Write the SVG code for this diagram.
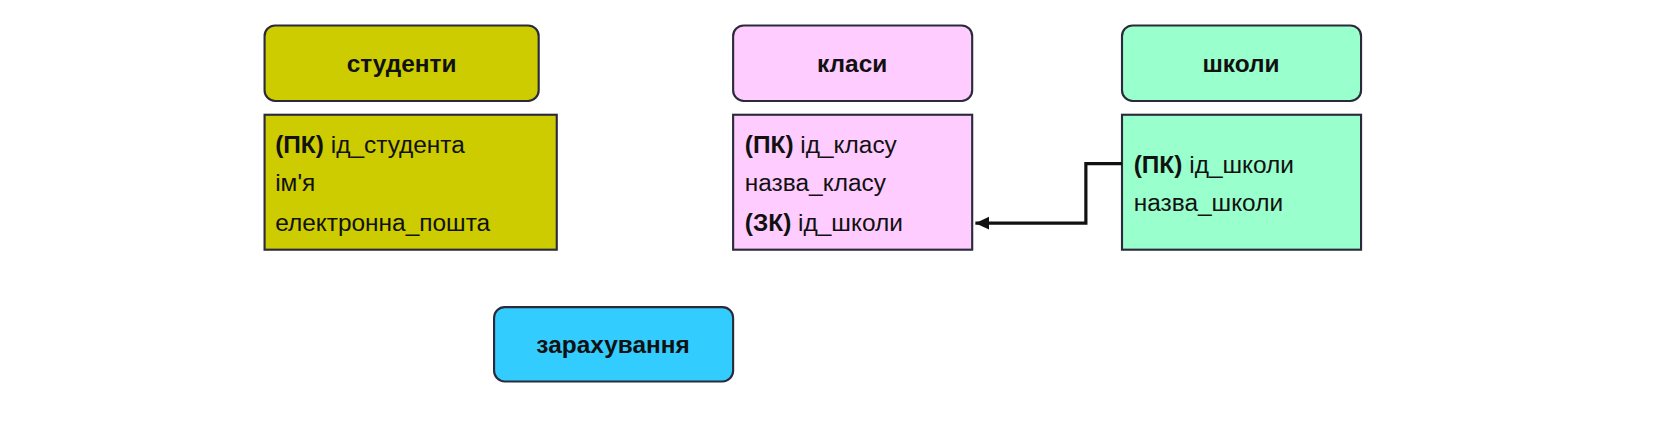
<svg xmlns="http://www.w3.org/2000/svg" width="1666" height="428" viewBox="0 0 1666 428">
<style>
.h{stroke:#2a2a3a;stroke-width:2}
.t{font-family:"Liberation Sans",Arial,sans-serif;font-size:23px;fill:#111}
.b{font-weight:bold}
.c{stroke:#111;stroke-width:3;fill:none}
</style>
<defs><marker id="a" markerWidth="14" markerHeight="14" refX="13" refY="6" orient="auto" markerUnits="userSpaceOnUse"><path d="M0,0 L13,6 L0,12 Z" fill="#111"/></marker></defs>
<rect width="1666" height="428" fill="#fff"/>
<g transform="scale(1.0625)">
<g id="students">
<rect class="h" x="249" y="24" width="258" height="71" rx="10" fill="#cccc00"/>
<text class="t b" x="378" y="68" text-anchor="middle">студенти</text>
<rect class="h" x="249" y="108" width="275" height="127" fill="#cccc00"/>
<text class="t" x="259" y="144"><tspan class="b">(ПК)</tspan> ід_студента</text>
<text class="t" x="259" y="180">ім'я</text>
<text class="t" x="259" y="217">електронна_пошта</text>
</g>
<g id="classes">
<rect class="h" x="690" y="24" width="225" height="71" rx="10" fill="#ffccff"/>
<text class="t b" x="802" y="68" text-anchor="middle">класи</text>
<rect class="h" x="690" y="108" width="225" height="127" fill="#ffccff"/>
<text class="t" x="701" y="144"><tspan class="b">(ПК)</tspan> ід_класу</text>
<text class="t" x="701" y="180">назва_класу</text>
<text class="t" x="701" y="217"><tspan class="b">(ЗК)</tspan> ід_школи</text>
</g>
<g id="schools">
<rect class="h" x="1056" y="24" width="225" height="71" rx="10" fill="#99ffcc"/>
<text class="t b" x="1168" y="68" text-anchor="middle">школи</text>
<rect class="h" x="1056" y="108" width="225" height="127" fill="#99ffcc"/>
<text class="t" x="1067" y="163"><tspan class="b">(ПК)</tspan> ід_школи</text>
<text class="t" x="1067" y="199">назва_школи</text>
</g>
<g id="enrollment">
<rect class="h" x="465" y="289" width="225" height="70" rx="10" fill="#33ccff"/>
<text class="t b" x="577" y="332" text-anchor="middle">зарахування</text>
</g>
<g id="connectors">
<path class="c" d="M1056,154 H1022 V210 H918" marker-end="url(#a)"/>
</g>
</g>
</svg>
